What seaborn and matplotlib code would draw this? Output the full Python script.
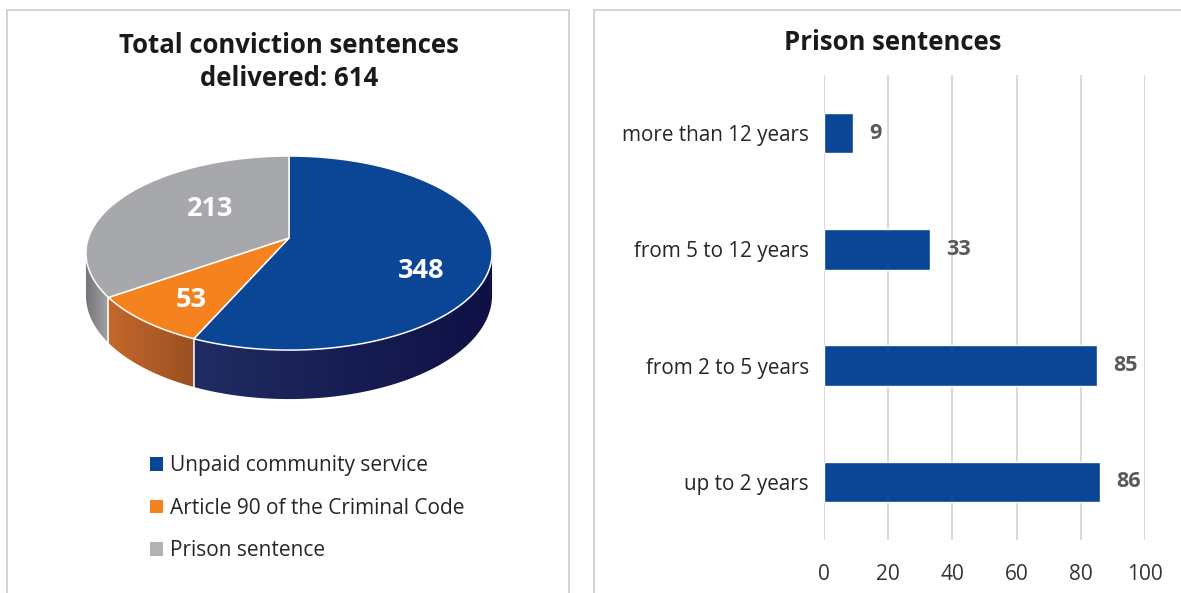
import numpy as np
import pandas as pd
import matplotlib
matplotlib.use("Agg")
import matplotlib.pyplot as plt
from matplotlib.patches import Polygon, Patch, Rectangle
from matplotlib.colors import to_rgb
import seaborn as sns

# ---- data -----------------------------------------------------------------
sentence_types = ["Unpaid community service",
                  "Article 90 of the Criminal Code",
                  "Prison sentence"]
sentence_counts = [348, 53, 213]

prison_terms = ["more than 12 years", "from 5 to 12 years",
                "from 2 to 5 years", "up to 2 years"]
prison_counts = [9, 33, 85, 86]
count_ticks = [0, 20, 40, 60, 80, 100]

# ---- style ----------------------------------------------------------------
sns.set_theme(style="white")
plt.rcParams["font.family"] = ["Open Sans", "DejaVu Sans"]

top_colors = ["#0b4595", "#f4821f", "#a7a8ac"]
side_from = ["#202c62", "#c6682c", "#717276"]
side_to = ["#0f1045", "#995022", "#a5a6aa"]
legend_colors = ["#0b4595", "#f4821f", "#b1b2b6"]
text_dark = "#1a1a1a"

W, H = 1181, 593
fig = plt.figure(figsize=(W / 100, H / 100), dpi=100)
fig.patch.set_facecolor("white")

# ---- left panel: 3-D pie drawn in pixel space ------------------------------
ax_pie = fig.add_axes([0, 0, 1, 1])
ax_pie.set_xlim(0, W)
ax_pie.set_ylim(H, 0)
ax_pie.axis("off")

cx, cy = 289, 238              # apex of the pie on screen
a, b, k = 200.6, 94.7, -0.155  # perspective projection of the unit disk
depth = 41.4
front_lo, front_hi = 98.9, 261.1   # angular range of the visible side wall


def project(X, Y, drop=0.0):
    d = 1 + k * Y
    return cx + a * X / d, cy + (b * Y + drop) / d


def rim(theta_deg, drop=0.0, r=1.0):
    t = np.radians(theta_deg)
    return project(r * np.sin(t), -r * np.cos(t), drop)


total = sum(sentence_counts)
bounds = np.concatenate([[0], np.cumsum(sentence_counts) / total * 360])

# side wall: one shaded polygon per slice, filled with a horizontal gradient
for i in range(len(sentence_counts)):
    lo = max(bounds[i], front_lo)
    hi = min(bounds[i + 1], front_hi)
    if hi <= lo:
        continue
    th = np.linspace(lo, hi, 300)
    xt, yt = rim(th)
    xb, yb = rim(th[::-1], depth)
    pts = np.column_stack([np.concatenate([xt, xb]), np.concatenate([yt, yb])])
    wall = Polygon(pts, closed=True, fc="none", ec="none", zorder=2)
    ax_pie.add_patch(wall)
    x0, x1 = pts[:, 0].min(), pts[:, 0].max()
    y0, y1 = pts[:, 1].min(), pts[:, 1].max()
    t = np.linspace(0, 1, 256)[:, None]
    grad = (1 - t) * np.array(to_rgb(side_from[i])) + t * np.array(to_rgb(side_to[i]))
    im = ax_pie.imshow(grad[None, :, :], extent=(x0 - 1, x1 + 1, y1 + 1, y0 - 1),
                       aspect="auto", interpolation="bilinear", zorder=2)
    im.set_clip_path(wall)

# white seams on the side wall between slices
for bnd in bounds[1:-1]:
    if front_lo < bnd < front_hi:
        xa, ya = rim(bnd)
        xb, yb = rim(bnd, depth)
        ax_pie.plot([xa, xb], [ya, yb], color="white", lw=1.1, zorder=3)

# top faces
for i in range(len(sentence_counts)):
    th = np.linspace(bounds[i], bounds[i + 1], 200)
    xs, ys = rim(th)
    pts = [(cx, cy)] + list(zip(xs, ys))
    ax_pie.add_patch(Polygon(pts, closed=True, fc=top_colors[i], ec="white",
                             lw=1.1, joinstyle="round", zorder=4))

ax_pie.set_xlim(0, W)
ax_pie.set_ylim(H, 0)

# value labels on the slices
label_r = [0.71, 0.74, 0.52]
label_turn = [16, -3, 10]
for i, v in enumerate(sentence_counts):
    mid = 0.5 * (bounds[i] + bounds[i + 1]) + label_turn[i]
    lx, ly = rim(mid, r=label_r[i])
    ax_pie.text(lx, ly, str(v), color="white", fontsize=19.5, fontweight="bold",
                ha="center", va="center", zorder=5)

fig.text(289 / W, 1 - 62 / H,
         f"Total conviction sentences\ndelivered: {total}",
         ha="center", va="center", fontsize=18.5, fontweight="bold",
         color=text_dark, linespacing=1.25)

handles = [Patch(facecolor=c, edgecolor="none", label=l)
           for c, l in zip(legend_colors, sentence_types)]
ax_pie.legend(handles=handles, loc="upper left",
              bbox_to_anchor=(140 / W, 1 - 445 / H), frameon=False,
              fontsize=15, handlelength=0.6, handleheight=0.6,
              handletextpad=0.35, labelspacing=1.03, borderpad=0,
              labelcolor="#262626")

# ---- right panel: horizontal bar chart -------------------------------------
ax = fig.add_axes([824 / W, 1 - 540 / H, 321 / W, 465 / H])
df = pd.DataFrame({"term": prison_terms, "count": prison_counts})
sns.barplot(data=df, x="count", y="term", orient="h", color="#0b4595",
            saturation=1, width=0.35, ax=ax, zorder=3)
ax.set_xlim(0, 100)
ax.set_xticks(count_ticks)
ax.set_ylim(3.5, -0.5)
ax.set_xlabel("")
ax.set_ylabel("")
ax.set_facecolor("none")
ax.xaxis.grid(True, color="#d9d9d9", lw=1.4)
ax.yaxis.grid(False)
ax.set_axisbelow(True)
for sp in ax.spines.values():
    sp.set_visible(False)
ax.tick_params(axis="x", length=0, pad=17, labelsize=15, labelcolor="#333333")
ax.tick_params(axis="y", length=0, pad=11, labelsize=14.9, labelcolor="#262626")
ax.bar_label(ax.containers[0], labels=[str(v) for v in prison_counts],
             padding=12, fontsize=15.5, fontweight="bold", color="#595959")

fig.text(893 / W, 1 - 43 / H, "Prison sentences", ha="center", va="center",
         fontsize=18.5, fontweight="bold", color=text_dark)

# ---- panel frames ----------------------------------------------------------
fig.add_artist(Rectangle((7 / W, -0.05), (569 - 7) / W, 1.05 - 9.5 / H,
                         transform=fig.transFigure, fill=False,
                         ec="#cccccc", lw=1.2))
fig.add_artist(Rectangle((594 / W, -0.05), 0.6, 1.05 - 9.5 / H,
                         transform=fig.transFigure, fill=False,
                         ec="#cccccc", lw=1.2))

fig.savefig("out.png", dpi=100)
